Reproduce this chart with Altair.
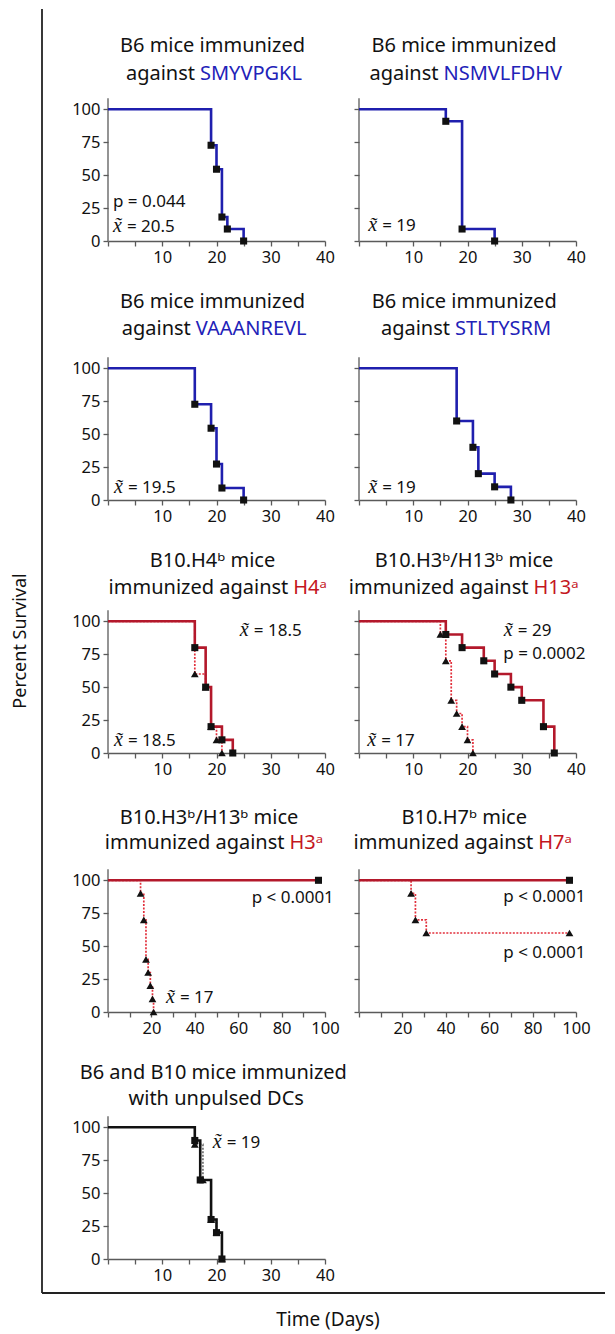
import altair as alt
import pandas as pd

# ---------------- survival data: day of event, percent surviving after it ----------------
smy_days = [19, 20, 21, 22, 25]
smy_surv = [72.7, 54.5, 18.2, 9.1, 0]
nsm_days = [16, 19, 25]
nsm_surv = [90.9, 9.1, 0]
vaa_days = [16, 19, 20, 21, 25]
vaa_surv = [72.7, 54.5, 27.3, 9.1, 0]
stl_days = [18, 21, 22, 25, 28]
stl_surv = [60, 40, 20, 10, 0]
h4_days = [16, 18, 19, 21, 23]
h4_surv = [80, 50, 20, 10, 0]
h4_ctrl_days = [16, 18, 19, 20, 21]
h4_ctrl_surv = [60, 50, 20, 10, 0]
h13_days = [16, 19, 23, 25, 28, 30, 34, 36]
h13_surv = [90, 80, 70, 60, 50, 40, 20, 0]
h13_ctrl_days = [15, 16, 17, 18, 19, 20, 21]
h13_ctrl_surv = [90, 70, 40, 30, 20, 10, 0]
h3_days = [97]
h3_surv = [100]
h3_ctrl_days = [15, 16.5, 17.5, 18.5, 19.5, 20.5, 21]
h3_ctrl_surv = [90, 70, 40, 30, 20, 10, 0]
h7_days = [97]
h7_surv = [100]
h7_ctrl_days = [24, 26, 31, 97]
h7_ctrl_surv = [90, 70, 60, 60]
dc_a_days = [16, 17, 19, 20, 21]
dc_a_surv = [90, 60, 30, 20, 0]
dc_b_days = [16, 17.5, 19, 20, 21]
dc_b_surv = [87, 60, 30, 20, 0]

# ---------------- styling / layout ----------------
FONT = "Noto Sans"
SYM_FONT = "Liberation Serif"
BLUE = "#1f1fae"
BLUE_TXT = "#2222b8"
RED = "#b3182b"
RED_DOT = "#e2303c"
RED_TXT = "#c4161e"
BLACK = "#111111"
GRAY_DOT = "#666666"
AXIS = "#5a5a5a"

W = 217           # plot width
K = 1.317         # px per percent
S_ROW = 104
S_COL = 34
ROW_H = [143, 155, 149, 155, 143]
ROW_TOP = [97]
for _h in ROW_H[:-1]:
    ROW_TOP.append(ROW_TOP[-1] + _h + S_ROW)
COL_X = [108, 108 + W + S_COL]
AXIS_TOP = 108.3  # y-axis line extends a little above 100


def line_df(days, surv):
    return pd.DataFrame({"day": [0] + list(days), "surv": [100] + list(surv)})


def txt(text, x, y, align="center", color=BLACK, size=20, **kw):
    return alt.Chart(pd.DataFrame({"t": [text]})).mark_text(
        align=align, baseline="middle", font=FONT, fontSize=size, color=color, **kw
    ).encode(text="t:N", x=alt.value(x), y=alt.value(y))


def make_panel(r, c, xmax, series, notes, title1, prefix, suffix, suffix_color,
               t1, t2, extra=None):
    H = ROW_H[r]
    ymax = H / K
    if xmax == 40:
        xvals = list(range(0, 41, 5))
        lexpr = "datum.value > 0 && datum.value % 10 === 0 ? datum.label : ''"
    else:
        xvals = list(range(0, 101, 10))
        lexpr = "datum.value > 0 && datum.value % 20 === 0 ? datum.label : ''"
    xaxis = alt.Axis(values=xvals, labelExpr=lexpr, title=None, grid=False,
                     domainColor=AXIS, domainWidth=1.3, tickColor=AXIS, tickWidth=1.3,
                     tickSize=5, labelFont=FONT, labelFontSize=16.5, labelColor=BLACK,
                     labelPadding=3, labelFlush=False, labelOverlap=False)
    yaxis = alt.Axis(values=[0, 25, 50, 75, 100], title=None, grid=False, domain=False,
                     tickColor=AXIS, tickWidth=1.3, tickSize=5, labels=(c == 0),
                     labelFont=FONT, labelFontSize=16.5, labelColor=BLACK,
                     labelPadding=3, labelFlush=False, labelOverlap=False)
    X = alt.X("day:Q", scale=alt.Scale(domain=[0, xmax], nice=False, zero=False), axis=xaxis)
    Y = alt.Y("surv:Q", scale=alt.Scale(domain=[0, ymax], nice=False, zero=False), axis=yaxis)

    layers = []
    dom = pd.DataFrame({"day": [0], "surv": [0], "top": [AXIS_TOP]})
    layers.append(alt.Chart(dom).mark_rule(color=AXIS, strokeWidth=1.3).encode(
        x=X, y=Y, y2=alt.Y2("top:Q")))

    # dotted series first, then solid
    for s in sorted(series, key=lambda s: 0 if s["dash"] else 1):
        kw = dict(interpolate="step-after", color=s["color"],
                  strokeWidth=s.get("width", 2.6))
        if s["dash"]:
            kw["strokeDash"] = [2, 1.5]
        layers.append(alt.Chart(line_df(s["days"], s["surv"])).mark_line(**kw).encode(x=X, y=Y))
    for s in sorted(series, key=lambda s: 0 if s["marker"] == "triangle" else 1):
        mdf = pd.DataFrame({"day": s["days"], "surv": s["surv"]})
        if s["marker"] == "triangle":
            m = alt.Chart(mdf).mark_point(shape="triangle-up", filled=True, size=60,
                                          color=BLACK, opacity=1)
        else:
            m = alt.Chart(mdf).mark_square(size=50, color=BLACK, opacity=1)
        layers.append(m.encode(x=X, y=Y))

    # annotations (p values and medians)
    for kind, d, v, t in notes:
        ndf = pd.DataFrame({"day": [d], "surv": [v], "t": [t]})
        if kind == "p":
            layers.append(alt.Chart(ndf).mark_text(
                align="left", baseline="middle", font=FONT, fontSize=17, color=BLACK
            ).encode(x=X, y=Y, text="t:N"))
        else:
            sdf = pd.DataFrame({"day": [d], "surv": [v], "t": ["x\u0303"]})
            layers.append(alt.Chart(sdf).mark_text(
                align="left", baseline="alphabetic", dy=5, font=SYM_FONT, fontSize=20,
                fontStyle="italic", color=BLACK
            ).encode(x=X, y=Y, text="t:N"))
            layers.append(alt.Chart(ndf).mark_text(
                align="left", baseline="middle", dx=14, font=FONT, fontSize=17, color=BLACK
            ).encode(x=X, y=Y, text="t:N"))

    # two-line title; second line may have a coloured word after the junction t2[0]
    ox, oy = COL_X[c], ROW_TOP[r]
    layers.append(txt(title1, t1[0] - ox, t1[1] - oy))
    if suffix:
        layers.append(txt(prefix, t2[0] - 2.5 - ox, t2[1] - oy, align="right"))
        layers.append(txt(suffix, t2[0] + 2.5 - ox, t2[1] - oy, align="left",
                          color=suffix_color))
    else:
        layers.append(txt(prefix, t2[0] - ox, t2[1] - oy))

    if extra:
        layers.extend(extra(ox, oy))
    return alt.layer(*layers).properties(width=W, height=H)


def blue(days, surv):
    return [{"days": days, "surv": surv, "color": BLUE, "dash": False, "marker": "square"}]


def red_pair(d1, s1, d2, s2):
    return [{"days": d1, "surv": s1, "color": RED, "dash": False, "marker": "square"},
            {"days": d2, "surv": s2, "color": RED_DOT, "dash": True, "marker": "triangle",
             "width": 1.7}]


def frame(ox, oy):
    one = pd.DataFrame({"a": [0]})
    out = []
    # invisible anchors at the page's top-left and bottom content corners
    out.append(alt.Chart(one).mark_rule(strokeOpacity=0).encode(
        x=alt.value(8 - ox), x2=alt.value(9 - ox), y=alt.value(8 - oy)))
    out.append(alt.Chart(one).mark_rule(strokeOpacity=0).encode(
        x=alt.value(300 - ox), x2=alt.value(301 - ox), y=alt.value(1331 - oy)))
    out.append(alt.Chart(one).mark_rule(color="#222222", strokeWidth=1.8).encode(
        x=alt.value(42 - ox), y=alt.value(8 - oy), y2=alt.value(1292 - oy)))
    out.append(alt.Chart(one).mark_rule(color="#222222", strokeWidth=1.8).encode(
        x=alt.value(42 - ox), x2=alt.value(605 - ox), y=alt.value(1292 - oy)))
    out.append(txt("Percent Survival", 21 - ox, 640 - oy, size=18, angle=270))
    out.append(txt("Time (Days)", 328 - ox, 1319 - oy, size=19))
    return out


panels = [
    make_panel(0, 0, 40, blue(smy_days, smy_surv),
               [("p", 0.9, 29.3, "p = 0.044"), ("m", 0.9, 11.0, "= 20.5")],
               "B6 mice immunized", "against", "SMYVPGKL", BLUE_TXT,
               (212.5, 45), (197.5, 73)),
    make_panel(0, 1, 40, blue(nsm_days, nsm_surv),
               [("m", 1.7, 11.4, "= 19")],
               "B6 mice immunized", "against", "NSMVLFDHV", BLUE_TXT,
               (464, 45), (441, 73)),
    make_panel(1, 0, 40, blue(vaa_days, vaa_surv),
               [("m", 1.1, 9.3, "= 19.5")],
               "B6 mice immunized", "against", "VAAANREVL", BLUE_TXT,
               (212.5, 300.7), (193.3, 327.7)),
    make_panel(1, 1, 40, blue(stl_days, stl_surv),
               [("m", 1.7, 9.3, "= 19")],
               "B6 mice immunized", "against", "STLTYSRM", BLUE_TXT,
               (464.2, 300.7), (452.5, 327.7)),
    make_panel(2, 0, 40, red_pair(h4_days, h4_surv, h4_ctrl_days, h4_ctrl_surv),
               [("m", 24.3, 92.6, "= 18.5"), ("m", 1.1, 9.1, "= 18.5")],
               "B10.H4\u1d47 mice", "immunized against", "H4\u1d43", RED_TXT,
               (212.5, 560), (290.8, 586.7)),
    make_panel(2, 1, 40, red_pair(h13_days, h13_surv, h13_ctrl_days, h13_ctrl_surv),
               [("m", 26.7, 92.6, "= 29"), ("p", 26.6, 74.9, "p = 0.0002"),
                ("m", 1.5, 9.1, "= 17")],
               "B10.H3\u1d47/H13\u1d47 mice", "immunized against", "H13\u1d43", RED_TXT,
               (464, 560), (531, 586.7)),
    make_panel(3, 0, 100, red_pair(h3_days, h3_surv, h3_ctrl_days, h3_ctrl_surv),
               [("p", 66.2, 86.3, "p < 0.0001"), ("m", 26.7, 10.4, "= 17")],
               "B10.H3\u1d47/H13\u1d47 mice", "immunized against", "H3\u1d43", RED_TXT,
               (209, 816.7), (287, 841.7)),
    make_panel(3, 1, 100, red_pair(h7_days, h7_surv, h7_ctrl_days, h7_ctrl_surv),
               [("p", 66.5, 87.3, "p < 0.0001"), ("p", 66.5, 45, "p < 0.0001")],
               "B10.H7\u1d47 mice", "immunized against", "H7\u1d43", RED_TXT,
               (464.2, 816.7), (535.8, 841.7)),
    make_panel(4, 0, 40,
               [{"days": dc_a_days, "surv": dc_a_surv, "color": BLACK, "dash": False,
                 "marker": "square"},
                {"days": dc_b_days, "surv": dc_b_surv, "color": GRAY_DOT, "dash": True,
                 "marker": "triangle", "width": 1.6}],
               [("m", 19.3, 88.3, "= 19")],
               "B6 and B10 mice immunized", "with unpulsed DCs", None, None,
               (213.3, 1071.7), (216.2, 1098.3), extra=frame),
]

chart = alt.concat(
    *panels, columns=2, spacing={"row": S_ROW, "column": S_COL}, bounds="flush"
).properties(padding=0, background="white").configure_view(stroke=None)

chart.save("out.html", embed_options={"renderer": "svg", "actions": False})
